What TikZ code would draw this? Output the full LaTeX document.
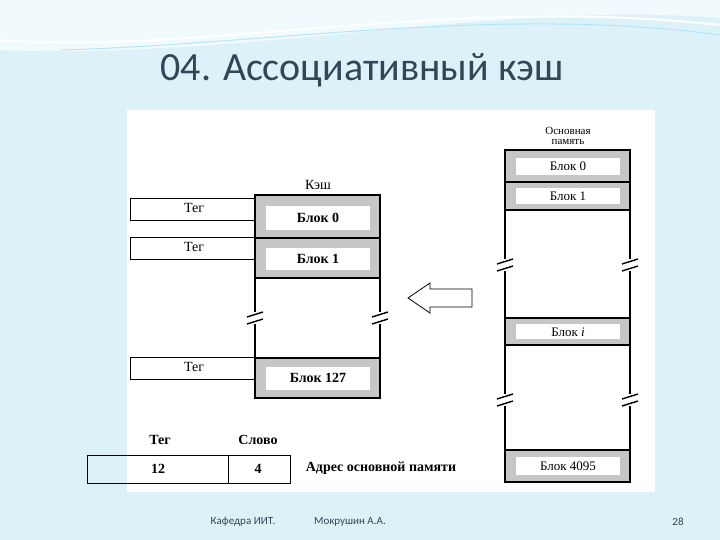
\documentclass[tikz,border=0pt]{standalone}
\usepackage{fontspec}
\setmainfont{Liberation Serif}
\newfontfamily\titlefont{Carlito}
\definecolor{bgc}{HTML}{DDF2F8}
\definecolor{titc}{HTML}{2F4756}
\tikzset{
  blk/.style={draw=black,line width=1.6pt,fill=gray!45},
  inner/.style={fill=white,draw=none},
  lbl/.style={font=\fontsize{14}{15}\selectfont},
  blbl/.style={font=\bfseries\fontsize{14}{15}\selectfont},
  mlbl/.style={font=\fontsize{13}{14}\selectfont},
  tagbox/.style={draw=black,line width=0.6pt,fill=white},
  brkline/.style={line width=1.4pt},
  foot/.style={font=\titlefont\fontsize{11}{12}\selectfont,text=titc}
}
\newcommand{\mybrk}[2]{%
  \fill[white] (#1-3,#2-6) rectangle (#1+3,#2+6);
  \draw[brkline] (#1-8,#2-1) -- (#1+8,#2-6);
  \draw[brkline] (#1-8,#2+6) -- (#1+8,#2+1);}
\begin{document}
\begin{tikzpicture}[x=1pt,y=-1pt]
\useasboundingbox (0,0) rectangle (720,540);
\fill[bgc] (0,0) rectangle (720,540);
% waves
\fill[white!60!bgc] (0,0) -- (720,0) -- (720,18) .. controls (500,0) and (250,60) .. (0,50) -- cycle;
\draw[white,line width=2pt] (0,40) .. controls (200,55) and (450,-5) .. (720,25);
\draw[cyan!30,line width=1pt] (60,50) .. controls (260,45) and (500,5) .. (720,35);
\fill[white] (127,110) rectangle (655,492);
\node[font=\titlefont\fontsize{40}{44}\selectfont,text=titc] (title) at (362,70) {04. Ассоциативный кэш};
\node[foot] (f1) at (243,522) {Кафедра ИИТ.};
\node[foot] (f2) at (350,522) {Мокрушин А.А.};
\node[foot] (f3) at (678,522) {28};
% cache
\node[lbl] (kesh) at (318,185) {Кэш};
\draw[tagbox] (130,198) rectangle (257,220);
\node[lbl] (t0) at (194,208) {Тег};
\draw[tagbox] (130,237) rectangle (257,259);
\node[lbl] (t1) at (194,247) {Тег};
\draw[tagbox] (130,357) rectangle (257,379);
\node[lbl] (t2) at (194,367) {Тег};
\draw[line width=1.6pt,fill=white] (255,195) rectangle (380,398);
\draw[blk] (255,195) rectangle (380,238);
\fill[inner] (266,206) rectangle (370,230);
\node[blbl] (c0) at (318,218) {Блок 0};
\draw[blk] (255,238) rectangle (380,278);
\fill[inner] (266,248) rectangle (370,270);
\node[blbl] (c1) at (318,259) {Блок 1};
\draw[blk] (255,358) rectangle (380,398);
\fill[inner] (266,367) rectangle (370,390);
\node[blbl] (c127) at (318,378) {Блок 127};
\mybrk{255}{318}
\mybrk{380}{318}
% arrow
\draw[line width=0.8pt,fill=white] (408,298) -- (430,283) -- (430,289) -- (472,289) -- (472,307) -- (430,307) -- (430,313) -- cycle;
% main memory
\node[align=center,font=\fontsize{11}{10}\selectfont] (mm) at (568,136) {Основная\\память};
\draw[line width=1.6pt,fill=white] (505,150) rectangle (630,482);
\draw[blk] (505,150) rectangle (630,182);
\fill[inner] (516,158) rectangle (620,175);
\node[mlbl] (m0) at (568,166) {Блок 0};
\draw[blk] (505,182) rectangle (630,210);
\fill[inner] (516,188) rectangle (620,204);
\node[mlbl] (m1) at (568,196) {Блок 1};
\draw[blk] (505,318) rectangle (630,345);
\fill[inner] (516,324) rectangle (620,339);
\node[mlbl] (mi) at (568,332) {Блок \textit{i}};
\draw[blk] (505,450) rectangle (630,482);
\fill[inner] (516,457) rectangle (620,475);
\node[mlbl] (m4095) at (568,466) {Блок 4095};
\mybrk{505}{265}
\mybrk{630}{265}
\mybrk{505}{400}
\mybrk{630}{400}
% address
\node[blbl] (ht) at (160,440) {Тег};
\node[blbl] (hs) at (258,440) {Слово};
\draw[line width=0.9pt] (87,455) rectangle (290,483);
\draw[line width=0.9pt] (228,455) -- (228,483);
\node[blbl] (a12) at (158,469) {12};
\node[blbl] (a4) at (258,469) {4};
\node[blbl] (adr) at (381,468) {Адрес основной памяти};
\end{tikzpicture}
\end{document}
